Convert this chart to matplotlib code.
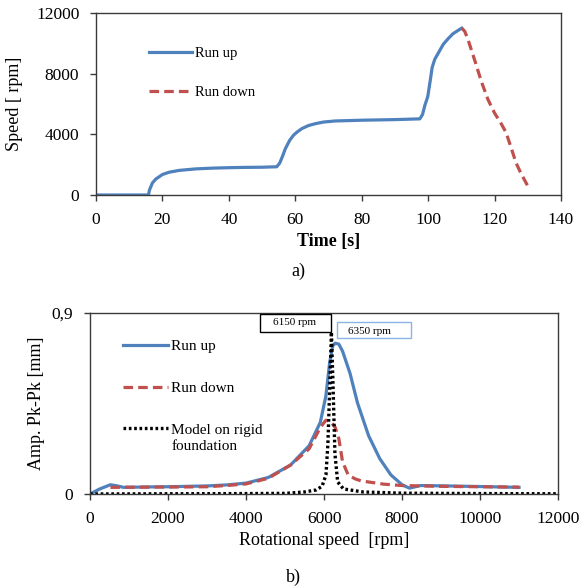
import matplotlib
matplotlib.use('Agg')
import matplotlib.pyplot as plt
from matplotlib.patches import Rectangle

plt.rcParams['font.family'] = ['Liberation Serif', 'DejaVu Serif']

# a) speed vs time
t_up = [0, 10, 15.8, 16.1, 17, 18, 20, 22, 25, 30, 35, 40, 45, 50, 54.4, 55.3, 56.1, 57, 58.3, 59.5, 60.6, 62, 64, 66, 68.5, 72, 80, 90, 97.5,
        98.3, 99, 99.9, 100.6, 101.2, 102, 102.9, 104.6, 106, 107.4, 109, 110.1]
rpm_up = [0, 0, 0, 330, 800, 1050, 1350, 1500, 1620, 1720, 1770, 1800, 1820, 1830, 1860, 2100, 2520, 3050, 3600, 3950, 4160, 4380, 4580, 4700, 4810, 4880, 4930, 4970, 5020,
          5300, 5900, 6500, 7500, 8400, 8950, 9300, 9950, 10300, 10620, 10850, 11000]
t_down = [110.1, 111, 112, 114, 116, 118, 120, 122, 123.5, 125, 126.5, 128, 130.1]
rpm_down = [11000, 10800, 10250, 8900, 7500, 6300, 5400, 4700, 4100, 3100, 2100, 1400, 550]

# b) amplitude vs rotational speed
n_up = [0, 250, 524, 700, 857, 1500, 2000, 3000, 3500, 4000, 4571, 5143, 5619, 5905, 6048, 6143, 6220, 6286, 6380, 6476, 6667, 6857, 7143,
        7429, 7714, 8000, 8190, 8476, 9143, 10000, 11000]
amp_up = [0, 0.025, 0.046, 0.04, 0.033, 0.035, 0.036, 0.04, 0.045, 0.054, 0.082, 0.144, 0.24, 0.356, 0.487, 0.65, 0.735, 0.75, 0.745, 0.71, 0.6, 0.454, 0.29,
          0.176, 0.095, 0.046, 0.029, 0.042, 0.04, 0.037, 0.033]
n_down = [524, 1500, 2500, 3000, 3500, 4000, 4571, 5143, 5619, 5905, 6048, 6190, 6290, 6381, 6476, 6619, 6800, 6952, 7524, 8000, 9000, 10000, 11000]
amp_down = [0.033, 0.034, 0.035, 0.036, 0.042, 0.05, 0.078, 0.144, 0.225, 0.33, 0.367, 0.356, 0.33, 0.274, 0.16, 0.095, 0.075, 0.065, 0.049, 0.042, 0.038, 0.036, 0.034]
n_model = [0, 2000, 4000, 5000, 5500, 5800, 5950, 6050, 6100, 6150, 6190, 6230, 6280, 6350, 6500, 7000, 8000, 10000, 12000]
amp_model = [0, 0.001, 0.002, 0.003, 0.01, 0.02, 0.038, 0.095, 0.25, 0.55, 0.805, 0.55, 0.2, 0.06, 0.025, 0.01, 0.004, 0.002, 0.001]

blue = '#4F81BD'
red = '#C0504D'
frame = '#3a3a3a'

fig = plt.figure(figsize=(5.84, 5.88), dpi=100)
ax1 = fig.add_axes([0.1644, 0.6684, 0.7962, 0.3095])
ax2 = fig.add_axes([0.1541, 0.1599, 0.8014, 0.3078])

for ax in (ax1, ax2):
    for s in ax.spines.values():
        s.set_color(frame)
        s.set_linewidth(1.0)
    ax.tick_params(direction='out', length=4, width=1, color=frame, labelsize=12.5, pad=8)

ax1.plot(t_up, rpm_up, color=blue, lw=2.3, label='Run up')
ax1.plot(t_down, rpm_down, color=red, lw=2.3, ls=(0, (3, 1.6)), label='Run down')
ax1.set_xlim(0, 140)
ax1.set_ylim(0, 12000)
ax1.set_xticks(range(0, 141, 20))
ax1.set_yticks([0, 4000, 8000, 12000])
ax1.set_xlabel('Time [s]', fontsize=13, fontweight='bold', labelpad=4)
ax1.set_ylabel('Speed [ rpm]', fontsize=13, labelpad=9)
ax1.legend(loc='upper left', bbox_to_anchor=(0.113, 0.815), frameon=False, fontsize=10.5,
           handlelength=3, handletextpad=0.2, labelspacing=1.8, borderpad=0, borderaxespad=0)

ax2.plot(n_up, amp_up, color=blue, lw=2.3, label='Run up')
ax2.plot(n_down, amp_down, color=red, lw=2.3, ls=(0, (3, 1.6)), label='Run down')
ax2.plot(n_model, amp_model, color='black', lw=2.4, ls=(0, (0.8, 0.8)), dash_capstyle='butt',
         label='Model on rigid')
ax2.set_xlim(0, 12000)
ax2.set_ylim(0, 0.9)
ax2.set_xticks(range(0, 12001, 2000))
ax2.set_yticks([0, 0.9])
ax2.set_yticklabels(['0', '0,9'])
ax2.set_xlabel('Rotational speed  [rpm]', fontsize=13, labelpad=4)
ax2.set_ylabel('Amp. Pk-Pk [mm]', fontsize=13, labelpad=5)
leg = ax2.legend(loc='upper left', bbox_to_anchor=(0.071, 0.855), frameon=False, fontsize=11,
                 handlelength=2.9, handletextpad=0.2, labelspacing=1.85, borderpad=0, borderaxespad=0)
ax2.text(0.175, (494 - 447) / 181, 'foundation', transform=ax2.transAxes, fontsize=11,
         ha='left', va='center')

ax2.add_patch(Rectangle((0.363, 0.895), 0.152, 0.099, transform=ax2.transAxes, facecolor='white',
                        edgecolor='black', lw=1, zorder=5, clip_on=False))
ax2.text(0.436, 0.948, '6150 rpm', transform=ax2.transAxes, fontsize=8, ha='center', va='center', zorder=6)
ax2.add_patch(Rectangle((0.528, 0.862), 0.158, 0.088, transform=ax2.transAxes, facecolor='white',
                        edgecolor='#8DB3E2', lw=1, zorder=5, clip_on=False))
ax2.text(0.598, 0.895, '6350 rpm', transform=ax2.transAxes, fontsize=8, ha='center', va='center', zorder=6)

fig.text(298 / 584, 1 - 271 / 588, 'a)', fontsize=13, ha='center', va='center')
fig.text(293 / 584, 1 - 577 / 588, 'b)', fontsize=13, ha='center', va='center')

fig.savefig('out.png', dpi=100)
